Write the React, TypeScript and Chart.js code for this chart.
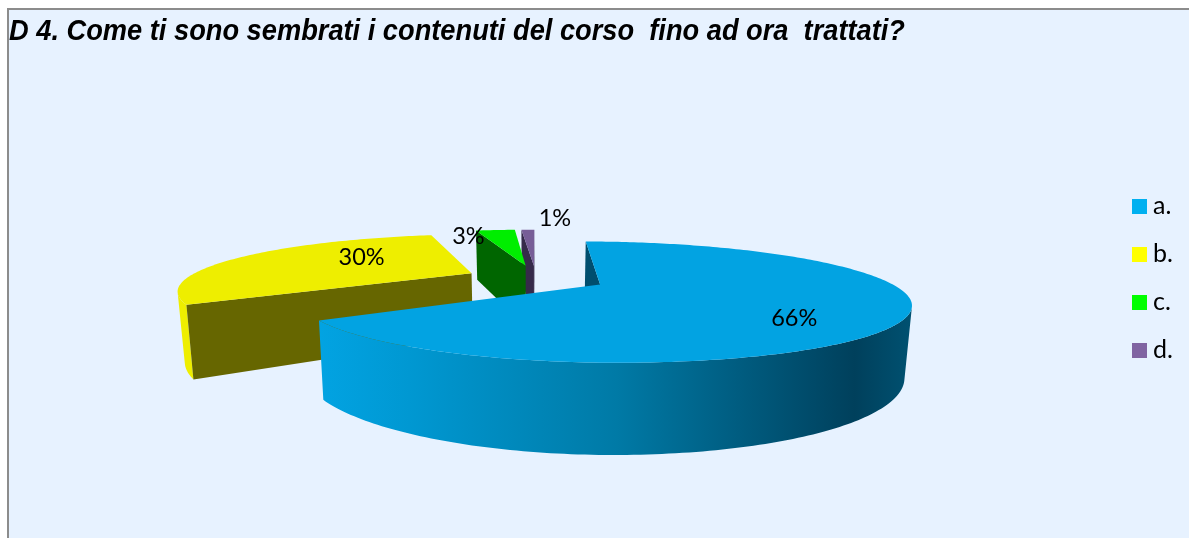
import React, { useEffect, useRef } from "react";
import { Chart, registerables } from "chart.js";

Chart.register(...registerables);

const title = "D 4. Come ti sono sembrati i contenuti del corso  fino ad ora  trattati?";
const categories = ["a.", "b.", "c.", "d."];
const values = [66, 30, 3, 1];
const legendColors = ["#00B0F0", "#FFFF00", "#00FF00", "#8064A2"];
const topColors = ["#02A3E2", "#EEEE00", "#00EE00", "#775E97"];
const rimColors = ["#0080AE", "#EEEE00", "#00EE00", "#775E97"];
const wallColors = ["#004E6E", "#666600", "#006600", "#362A4A"];
const labelRadius = [0.7, 0.45, 1, 1];
const labelShiftX = [-5, -3, -27, 27];
const labelShiftY = [13, -8, 6, -11];
const stretchRight = [1.04, 1, 1, 1];
const stretchLeft = [1.01, 1, 1, 1];

const VIEW = { cx: 536, cy: 278, rx: 278, ry: 52, depth: 66, k: 0.28, j: 0.015, shrink: 0.98, explode: 0.255 };

type P = [number, number];
function project(X: number, Y: number, low: boolean): P {
  const p = 1 / (1 - VIEW.k * Y + VIEW.j * X);
  const z = low ? VIEW.shrink : 1;
  return [VIEW.cx + VIEW.rx * X * p * z, VIEW.cy + (VIEW.ry * Y + (low ? VIEW.depth : 0)) * p * z];
}
function area(pts: P[]) {
  let s = 0;
  pts.forEach((a, i) => {
    const b = pts[(i + 1) % pts.length];
    s += a[0] * b[1] - b[0] * a[1];
  });
  return s;
}
function fillPoly(ctx: CanvasRenderingContext2D, pts: P[], fill: any) {
  ctx.beginPath();
  pts.forEach((q, i) => (i ? ctx.lineTo(q[0], q[1]) : ctx.moveTo(q[0], q[1])));
  ctx.closePath();
  ctx.fillStyle = fill;
  ctx.fill();
}
function swatch(color: string) {
  const c = document.createElement("canvas");
  c.width = 15;
  c.height = 15;
  const g = c.getContext("2d")!;
  g.fillStyle = color;
  g.fillRect(0, 0, 15, 15);
  return c;
}

const frame = {
  id: "frame",
  beforeDraw(chart: any) {
    const { ctx, width, height } = chart;
    ctx.save();
    ctx.fillStyle = "#FFFFFF";
    ctx.fillRect(0, 0, width, height);
    ctx.fillStyle = "#E7F2FF";
    ctx.fillRect(8, 9, width - 8, height - 9);
    ctx.fillStyle = "#8C8C8C";
    ctx.fillRect(7, 8, width - 7, 2);
    ctx.fillRect(7, 8, 2, height - 8);
    ctx.restore();
  },
};

const pie3d = {
  id: "pie3d",
  beforeDatasetDraw() {
    return false;
  },
  afterDatasetsDraw(chart: any) {
    const { ctx } = chart;
    const arcs = chart.getDatasetMeta(0).data;
    const order = arcs.map((_: any, i: number) => i).reverse();
    ctx.save();
    for (const i of order) {
      const a0 = arcs[i].startAngle + Math.PI / 2;
      const a1 = arcs[i].endAngle + Math.PI / 2;
      const mid = (a0 + a1) / 2;
      const ox = VIEW.explode * Math.sin(mid);
      const oy = -VIEW.explode * Math.cos(mid);
      const n = Math.max(4, Math.ceil(((a1 - a0) * 180) / Math.PI));
      const world: P[] = [];
      for (let s = 0; s <= n; s++) {
        const t = a0 + ((a1 - a0) * s) / n;
        const sx = Math.sin(t);
        world.push([ox + sx * (sx > 0 ? stretchRight[i] : stretchLeft[i]), oy - Math.cos(t)]);
      }
      const top = world.map((w) => project(w[0], w[1], false));
      const bot = world.map((w) => project(w[0], w[1], true));
      const apexT = project(ox, oy, false);
      const apexB = project(ox, oy, true);

      let rimFill: any = rimColors[i];
      if (i === 0) {
        const g = ctx.createLinearGradient(320, 0, 914, 0);
        g.addColorStop(0, "#02A3E2");
        g.addColorStop(0.15, "#0098D2");
        g.addColorStop(0.5, "#007AA6");
        g.addColorStop(0.9, "#00405C");
        g.addColorStop(1, "#005272");
        rimFill = g;
      }
      let run: number[] = [];
      const flush = () => {
        if (run.length) {
          const first = run[0];
          const last = run[run.length - 1] + 1;
          const upper: P[] = [];
          const lower: P[] = [];
          for (let s = first; s <= last; s++) {
            upper.push(top[s]);
            lower.unshift(bot[s]);
          }
          fillPoly(ctx, [...upper, ...lower], rimFill);
        }
        run = [];
      };
      for (let s = 0; s < n; s++) {
        if (area([top[s], top[s + 1], bot[s + 1], bot[s]]) < 0) run.push(s);
        else flush();
      }
      flush();

      const startWall: P[] = [apexT, top[0], bot[0], apexB];
      if (area(startWall) < 0) fillPoly(ctx, startWall, wallColors[i]);
      const endWall: P[] = [apexT, top[n], bot[n], apexB];
      if (area(endWall) > 0) fillPoly(ctx, endWall, wallColors[i]);

      fillPoly(ctx, [apexT, ...top], topColors[i]);
    }
    ctx.fillStyle = "#000000";
    ctx.font = "23.5px Lato";
    ctx.textAlign = "center";
    ctx.textBaseline = "middle";
    const total = values.reduce((s, v) => s + v, 0);
    arcs.forEach((arc: any, i: number) => {
      const mid = (arc.startAngle + arc.endAngle) / 2 + Math.PI / 2;
      const ox = VIEW.explode * Math.sin(mid);
      const oy = -VIEW.explode * Math.cos(mid);
      const r = labelRadius[i];
      const q = project(ox + r * Math.sin(mid), oy - r * Math.cos(mid), false);
      ctx.fillText(`${Math.round((values[i] / total) * 100)}%`, q[0] + labelShiftX[i], q[1] + labelShiftY[i]);
    });
    ctx.restore();
  },
};

const narrowTitle = {
  id: "narrowTitle",
  afterLayout(chart: any) {
    const tb = chart.titleBlock;
    if (!tb || tb.__wrapped) return;
    const orig = tb.draw;
    tb.__wrapped = true;
    tb.draw = function () {
      const ctx: CanvasRenderingContext2D = this.ctx;
      ctx.save();
      ctx.translate(9, 0);
      ctx.scale(0.908, 1);
      ctx.translate(-9, 0);
      orig.call(this);
      ctx.restore();
    };
  },
};

export default function App() {
  const ref = useRef<HTMLCanvasElement>(null);
  useEffect(() => {
    const baseLabels = (Chart as any).overrides.pie.plugins.legend.labels.generateLabels;
    const chart = new Chart(ref.current!, {
      type: "pie",
      data: {
        labels: categories,
        datasets: [{ data: values, backgroundColor: legendColors, borderWidth: 0 }],
      },
      options: {
        responsive: false,
        animation: false,
        layout: { padding: { left: 9, right: 6, top: 10, bottom: -8 } },
        plugins: {
          tooltip: { enabled: false },
          title: {
            display: true,
            text: title,
            align: "start",
            color: "#000000",
            font: { family: "Liberation Sans", size: 30, weight: "bold", style: "italic" },
            padding: { top: 4, bottom: 6 },
          },
          legend: {
            position: "right",
            labels: {
              usePointStyle: true,
              pointStyleWidth: 2,
              boxHeight: 15,
              padding: 23,
              color: "#000000",
              font: { family: "Lato", size: 25 },
              generateLabels: (c: any) =>
                baseLabels(c).map((l: any, i: number) => ({ ...l, pointStyle: swatch(legendColors[i]) })),
            },
          },
        },
      },
      plugins: [frame, pie3d, narrowTitle],
    } as any);
    return () => chart.destroy();
  }, []);
  return (
    <div style={{ position: "fixed", left: 0, top: 0 }}>
      <canvas ref={ref} width={1189} height={538} style={{ display: "block" }} />
    </div>
  );
}
